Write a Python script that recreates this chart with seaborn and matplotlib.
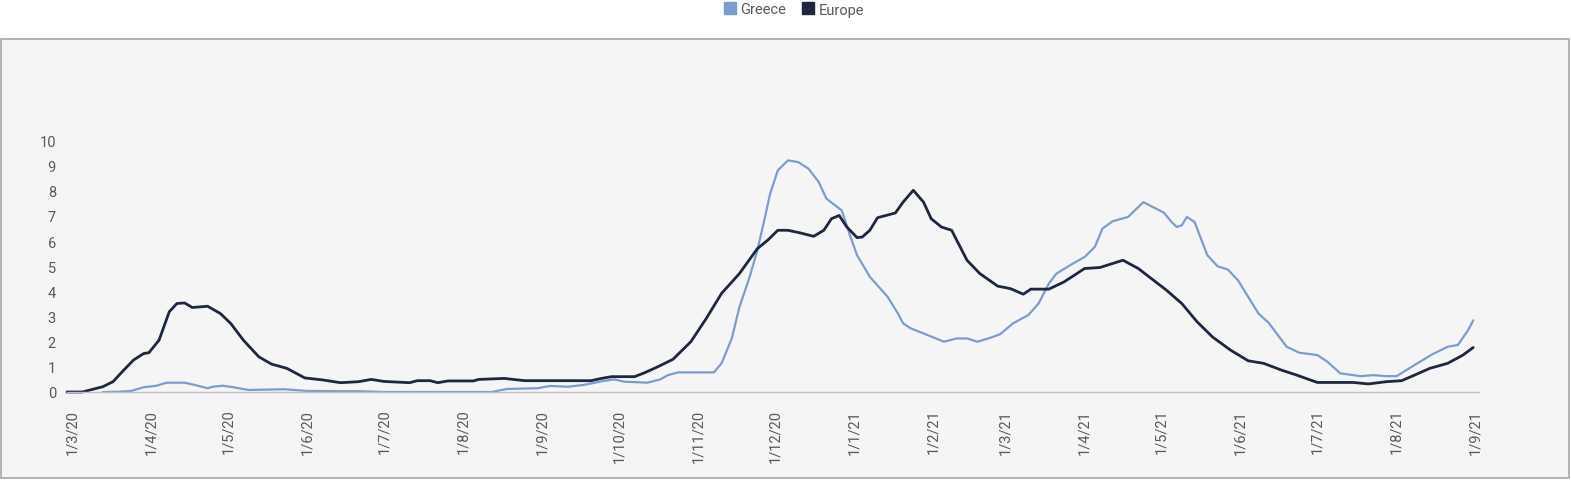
import matplotlib
matplotlib.use("Agg")
import matplotlib.dates as mdates
import matplotlib.pyplot as plt
from matplotlib.lines import Line2D
from matplotlib.patches import Rectangle
from matplotlib.ticker import FuncFormatter
import pandas as pd
import seaborn as sns


# values
europe_dates = [
    "2020-02-28", "2020-03-05", "2020-03-08", "2020-03-13", "2020-03-17", "2020-03-21",
    "2020-03-25", "2020-03-29", "2020-03-31", "2020-04-04", "2020-04-08", "2020-04-11",
    "2020-04-14", "2020-04-17", "2020-04-23", "2020-04-28", "2020-05-02", "2020-05-07",
    "2020-05-13", "2020-05-18", "2020-05-24", "2020-05-31", "2020-06-07", "2020-06-14",
    "2020-06-21", "2020-06-26", "2020-07-01", "2020-07-11", "2020-07-14", "2020-07-19",
    "2020-07-22", "2020-07-26", "2020-08-05", "2020-08-07", "2020-08-17", "2020-08-25",
    "2020-09-20", "2020-09-24", "2020-09-28", "2020-10-07", "2020-10-11", "2020-10-16",
    "2020-10-22", "2020-10-29", "2020-11-04", "2020-11-10", "2020-11-17", "2020-11-24",
    "2020-11-28", "2020-12-02", "2020-12-06", "2020-12-11", "2020-12-16", "2020-12-20",
    "2020-12-23", "2020-12-26", "2020-12-29", "2021-01-02", "2021-01-04", "2021-01-07",
    "2021-01-10", "2021-01-17", "2021-01-20", "2021-01-24", "2021-01-28", "2021-01-31",
    "2021-02-04", "2021-02-08", "2021-02-10", "2021-02-14", "2021-02-19", "2021-02-26",
    "2021-03-03", "2021-03-08", "2021-03-11", "2021-03-18", "2021-03-24", "2021-04-01",
    "2021-04-07", "2021-04-16", "2021-04-22", "2021-04-28", "2021-05-03", "2021-05-09",
    "2021-05-15", "2021-05-21", "2021-05-28", "2021-06-04", "2021-06-10", "2021-06-17",
    "2021-06-23", "2021-07-01", "2021-07-15", "2021-07-21", "2021-07-28", "2021-08-03",
    "2021-08-08", "2021-08-14", "2021-08-21", "2021-08-27", "2021-08-31",
]
europe_values = [
    0.00, 0.00, 0.08, 0.21, 0.41, 0.85,
    1.27, 1.53, 1.56, 2.06, 3.19, 3.52,
    3.54, 3.36, 3.41, 3.12, 2.73, 2.06,
    1.40, 1.11, 0.94, 0.56, 0.48, 0.37,
    0.41, 0.50, 0.42, 0.37, 0.45, 0.45,
    0.37, 0.44, 0.44, 0.50, 0.54, 0.45,
    0.45, 0.54, 0.61, 0.61, 0.77, 1.00,
    1.30, 2.00, 2.92, 3.92, 4.71, 5.70,
    6.03, 6.43, 6.43, 6.32, 6.19, 6.43,
    6.89, 7.02, 6.56, 6.14, 6.16, 6.43,
    6.93, 7.12, 7.55, 8.02, 7.55, 6.89,
    6.56, 6.43, 6.03, 5.24, 4.71, 4.21,
    4.11, 3.89, 4.09, 4.09, 4.38, 4.91,
    4.95, 5.24, 4.91, 4.44, 4.05, 3.52,
    2.79, 2.19, 1.67, 1.24, 1.14, 0.87,
    0.67, 0.38, 0.38, 0.32, 0.41, 0.45,
    0.67, 0.94, 1.14, 1.47, 1.77,
]

greece_dates = [
    "2020-03-13", "2020-03-19", "2020-03-24", "2020-03-29", "2020-04-03", "2020-04-07",
    "2020-04-14", "2020-04-18", "2020-04-23", "2020-04-25", "2020-04-29", "2020-05-03",
    "2020-05-09", "2020-05-23", "2020-06-01", "2020-06-22", "2020-07-01", "2020-08-12",
    "2020-08-18", "2020-08-30", "2020-09-04", "2020-09-11", "2020-09-17", "2020-09-25",
    "2020-09-29", "2020-10-03", "2020-10-12", "2020-10-17", "2020-10-20", "2020-10-24",
    "2020-11-07", "2020-11-10", "2020-11-14", "2020-11-17", "2020-11-21", "2020-11-24",
    "2020-11-27", "2020-11-29", "2020-12-02", "2020-12-06", "2020-12-10", "2020-12-14",
    "2020-12-18", "2020-12-21", "2020-12-27", "2020-12-30", "2021-01-02", "2021-01-07",
    "2021-01-14", "2021-01-18", "2021-01-20", "2021-01-23", "2021-01-28", "2021-02-05",
    "2021-02-10", "2021-02-14", "2021-02-18", "2021-02-23", "2021-02-27", "2021-03-04",
    "2021-03-10", "2021-03-14", "2021-03-18", "2021-03-21", "2021-03-27", "2021-04-01",
    "2021-04-05", "2021-04-08", "2021-04-12", "2021-04-18", "2021-04-24", "2021-04-27",
    "2021-05-02", "2021-05-05", "2021-05-07", "2021-05-09", "2021-05-11", "2021-05-14",
    "2021-05-19", "2021-05-23", "2021-05-27", "2021-05-31", "2021-06-04", "2021-06-08",
    "2021-06-12", "2021-06-19", "2021-06-24", "2021-07-01", "2021-07-05", "2021-07-10",
    "2021-07-18", "2021-07-23", "2021-07-28", "2021-08-01", "2021-08-08", "2021-08-15",
    "2021-08-21", "2021-08-25", "2021-08-29", "2021-08-31",
]
greece_values = [
    0.00, 0.01, 0.04, 0.19, 0.25, 0.37,
    0.37, 0.28, 0.15, 0.21, 0.25, 0.19,
    0.08, 0.11, 0.04, 0.03, 0.00, 0.00,
    0.12, 0.15, 0.24, 0.21, 0.28, 0.44,
    0.50, 0.41, 0.37, 0.50, 0.67, 0.78,
    0.78, 1.14, 2.13, 3.38, 4.58, 5.63,
    6.96, 7.88, 8.81, 9.21, 9.14, 8.88,
    8.35, 7.69, 7.22, 6.30, 5.44, 4.58,
    3.78, 3.12, 2.73, 2.53, 2.33, 2.00,
    2.13, 2.13, 2.00, 2.15, 2.30, 2.73,
    3.06, 3.52, 4.31, 4.71, 5.08, 5.37,
    5.77, 6.50, 6.79, 6.96, 7.55, 7.39,
    7.13, 6.76, 6.56, 6.63, 6.96, 6.76,
    5.44, 5.00, 4.87, 4.44, 3.78, 3.12,
    2.75, 1.80, 1.56, 1.47, 1.20, 0.74,
    0.63, 0.67, 0.63, 0.63, 1.07, 1.50,
    1.80, 1.87, 2.46, 2.85,
]

y_ticks = list(range(0, 11))

GREECE_COLOR = "#7b9dcb"
EUROPE_COLOR = "#1d2740"
TEXT_COLOR = "#595959"
AXIS_COLOR = "#bfbfbf"

W, H = 1571, 481


def day_month_year(value, _pos):
    d = mdates.num2date(value)
    return f"{d.day}/{d.month}/{d.year % 100}"


def main():
    sns.set_style("white")
    plt.rcParams["font.family"] = ["Roboto", "DejaVu Sans"]

    greece = pd.DataFrame({"date": pd.to_datetime(greece_dates), "value": greece_values})
    europe = pd.DataFrame({"date": pd.to_datetime(europe_dates), "value": europe_values})

    fig = plt.figure(figsize=(W / 100, H / 100), dpi=100, facecolor="white")

    # grey chart panel below the legend
    panel = Rectangle(
        (1 / W, 2 / H), 1568 / W, 439 / H,
        transform=fig.transFigure, facecolor="#f5f5f5", edgecolor="#a6a6a6",
        linewidth=1.2, zorder=-10,
    )
    fig.patches.append(panel)

    ax = fig.add_axes([67 / W, 1 - 393 / H, 1412 / W, 251.5 / H])
    ax.set_facecolor("none")

    sns.lineplot(data=greece, x="date", y="value", ax=ax, color=GREECE_COLOR,
                 linewidth=1.6, clip_on=False)
    sns.lineplot(data=europe, x="date", y="value", ax=ax, color=EUROPE_COLOR,
                 linewidth=2.0, clip_on=False)

    ax.set_xlim(pd.Timestamp("2020-02-28"), pd.Timestamp("2021-09-02 06:00"))
    ax.set_ylim(0, 10)
    ax.set_yticks(y_ticks)
    ax.set_xlabel("")
    ax.set_ylabel("")

    ax.xaxis.set_major_locator(mdates.MonthLocator(bymonthday=1))
    ax.xaxis.set_major_formatter(FuncFormatter(day_month_year))

    for side in ("top", "right", "left"):
        ax.spines[side].set_visible(False)
    ax.spines["bottom"].set_color(AXIS_COLOR)
    ax.spines["bottom"].set_linewidth(1.0)

    ax.tick_params(axis="y", length=0, pad=8, labelsize=10.5, labelcolor=TEXT_COLOR)
    ax.tick_params(axis="x", length=3, width=1, color=AXIS_COLOR, pad=9,
                   labelsize=10.5, labelcolor=TEXT_COLOR, labelrotation=90)
    ax.grid(False)

    handles = [
        Line2D([], [], marker="s", linestyle="none", markersize=8, color=GREECE_COLOR),
        Line2D([], [], marker="s", linestyle="none", markersize=8, color=EUROPE_COLOR),
    ]
    leg = fig.legend(
        handles, ["Greece", "Europe"], loc="center",
        bbox_to_anchor=(794 / W, 1 - 10.5 / H), ncol=2, frameon=False,
        handlelength=0.8, handletextpad=0.3, columnspacing=1.1, fontsize=10.5,
    )
    for text in leg.get_texts():
        text.set_color(TEXT_COLOR)

    fig.savefig("out.png", dpi=100, facecolor="white")
    plt.close(fig)


if __name__ == "__main__":
    main()
